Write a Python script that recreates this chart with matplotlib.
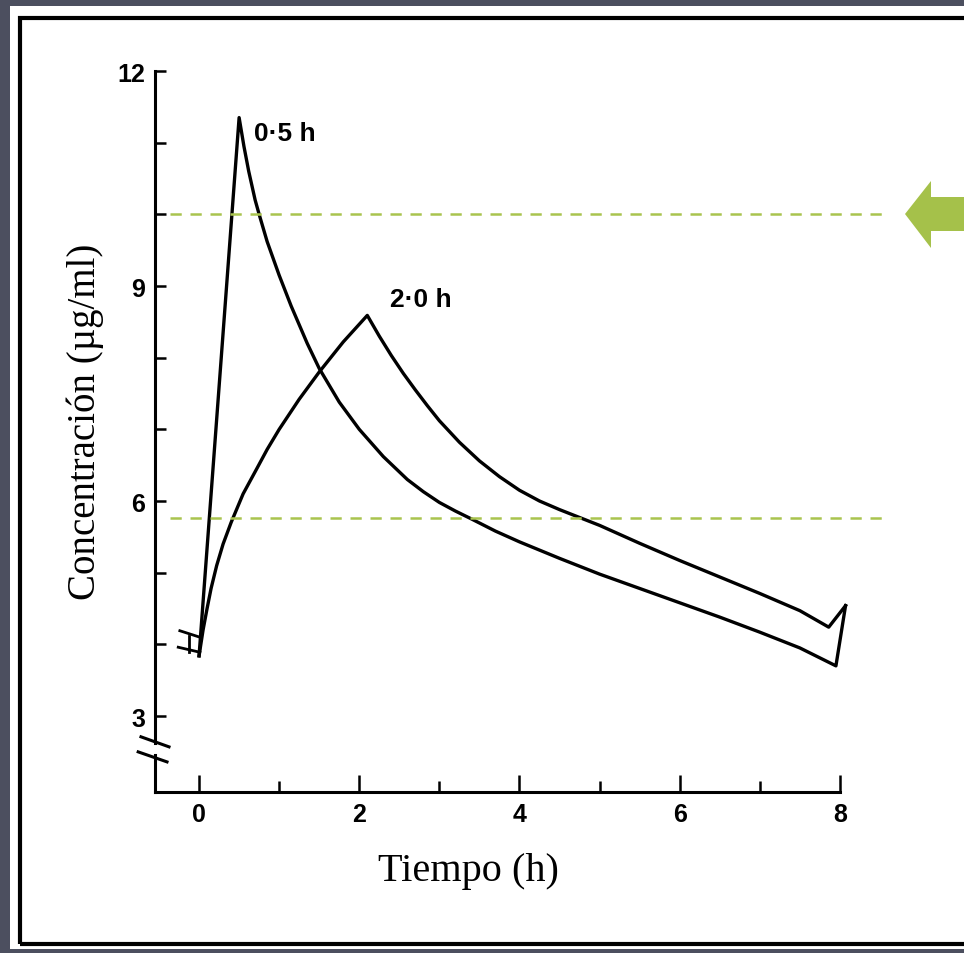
import numpy as np
import matplotlib.pyplot as plt
from matplotlib.patches import Rectangle, Polygon

# datos
t_05 = [0.0, 0.5, 0.56, 0.62, 0.7, 0.75, 0.85, 1.0, 1.15, 1.35, 1.5, 1.75, 2.0, 2.3,
        2.6, 2.8, 3.0, 3.2, 3.4, 3.7, 4.0, 4.5, 5.0, 5.5, 6.0, 6.5, 7.0, 7.5, 7.95, 8.07]
c_05 = [3.84, 11.35, 10.95, 10.6, 10.2, 10.0, 9.62, 9.15, 8.72, 8.2, 7.85, 7.38, 7.0, 6.62,
        6.3, 6.13, 5.98, 5.86, 5.75, 5.58, 5.43, 5.2, 4.98, 4.78, 4.58, 4.38, 4.17, 3.95,
        3.70, 4.54]
t_20 = [0.0, 0.05, 0.1, 0.15, 0.22, 0.3, 0.4, 0.55, 0.72, 0.85, 1.0, 1.25, 1.5, 1.8,
        2.1, 2.25, 2.4, 2.55, 2.7, 2.85, 3.0, 3.25, 3.5, 3.75, 4.0, 4.25, 4.5, 4.75, 5.0,
        5.5, 6.0, 6.5, 7.0, 7.5, 7.86, 8.07]
c_20 = [3.84, 4.2, 4.5, 4.78, 5.1, 5.4, 5.7, 6.1, 6.45, 6.72, 7.0, 7.42, 7.8, 8.22,
        8.59, 8.3, 8.03, 7.78, 7.55, 7.33, 7.12, 6.82, 6.56, 6.34, 6.15, 6.0, 5.88, 5.77,
        5.66, 5.41, 5.17, 4.94, 4.71, 4.47, 4.24, 4.54]
niveles = [10.0, 5.76]  # lineas verdes
x_ticks = [0, 2, 4, 6, 8]
x_minor = [1, 3, 5, 7]
y_ticks = [3, 6, 9, 12]
y_minor = [4, 5, 7, 8, 10, 11]

W, H = 964, 954
fig = plt.figure(figsize=(W / 100, H / 100), dpi=100, facecolor='#4c4f5f')


def px(x, y, w, h):
    return (x / W, 1 - (y + h) / H), w / W, h / H


# panel blanco y marco negro
xy, w, h = px(10, 7, 960, 943)
fig.add_artist(Rectangle(xy, w, h, transform=fig.transFigure, fc='white', ec='none',
                         zorder=-2))
xy, w, h = px(20, 19, 960, 926)
fig.add_artist(Rectangle(xy, w, h, transform=fig.transFigure, fc='none', ec='black',
                         lw=3, zorder=-1))

# flecha verde
pts = [(905, 215), (931, 182), (931, 198), (970, 198), (970, 232), (931, 232), (931, 249)]
fig.add_artist(Polygon([(x / W, 1 - y / H) for x, y in pts], closed=True,
                       transform=fig.transFigure, fc='#a5c14a', ec='none'))

ax = fig.add_axes([155 / W, 1 - 793 / H, 733 / W, 742.5 / H])
ax.set_facecolor('none')
ax.set_xlim(-0.55, 8.6)
ax.set_ylim(1.94, 12.3)

ax.plot(t_05, c_05, color='black', lw=2.4, solid_joinstyle='round')
ax.plot(t_20, c_20, color='black', lw=2.4, solid_joinstyle='round')
for n in niveles:
    ax.plot([-0.36, 8.6], [n, n], color='#a9c44e', lw=1.8, dashes=(4.5, 3.5))

ax.text(0.69, 11.13, '0·5 h', fontsize=19, fontweight='bold', va='center',
        family='Liberation Sans')
ax.text(2.38, 8.82, '2·0 h', fontsize=19, fontweight='bold', va='center',
        family='Liberation Sans')

# marca de corte al inicio de las curvas
ax.plot([-0.24, 0.01], [4.19, 4.10], color='black', lw=2.0)
ax.plot([-0.26, 0.01], [3.96, 3.89], color='black', lw=2.0)
ax.plot([-0.12, -0.12], [3.9, 4.12], color='black', lw=2.0)

for s in ['top', 'right']:
    ax.spines[s].set_visible(False)
ax.spines['left'].set_bounds(2.62, 12)
ax.spines['bottom'].set_bounds(-0.55, 8)
for s in ['left', 'bottom']:
    ax.spines[s].set_linewidth(2.2)
# tramo inferior del eje y y marcas de corte
ax.plot([-0.55, -0.55], [1.94, 2.45], color='black', lw=2.2, clip_on=False)
ax.plot([-0.725, -0.375], [2.71, 2.57], color='black', lw=2.2, clip_on=False)
ax.plot([-0.76, -0.40], [2.50, 2.36], color='black', lw=2.2, clip_on=False)

ax.set_xticks(x_ticks)
ax.set_xticks(x_minor, minor=True)
ax.set_yticks(y_ticks)
ax.set_yticks(y_minor, minor=True)
ax.tick_params(axis='x', which='major', direction='in', length=12, width=1.8, pad=7)
ax.tick_params(axis='x', which='minor', direction='in', length=8, width=1.8)
ax.tick_params(axis='y', which='both', direction='in', length=8, width=1.8, pad=7)
for lab in ax.get_xticklabels() + ax.get_yticklabels():
    lab.set_fontsize(18)
    lab.set_fontweight('bold')
    lab.set_family('Liberation Sans')

fig.text(468 / W, 1 - 872 / H, 'Tiempo (h)', fontsize=29, family='Liberation Serif',
         ha='center', va='center')
fig.text(85 / W, 1 - 422 / H, 'Concentración (µg/ml)', fontsize=28,
         family='Liberation Serif', rotation=90, ha='center', va='center')

plt.savefig('out.png', dpi=100, facecolor=fig.get_facecolor())
